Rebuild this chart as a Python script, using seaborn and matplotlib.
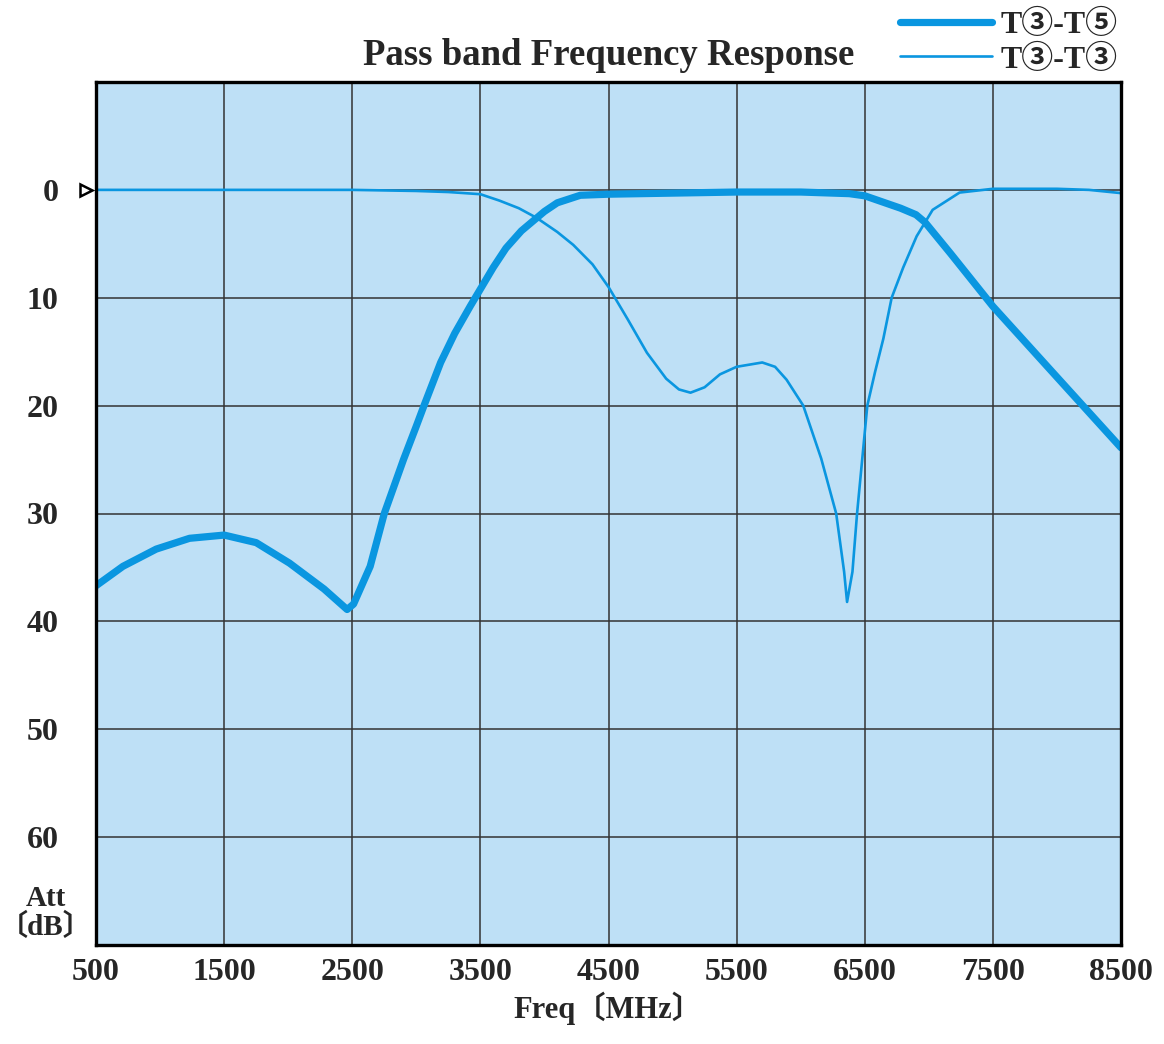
import matplotlib
matplotlib.use("Agg")
import matplotlib.pyplot as plt
import seaborn as sns
import pandas as pd

# T3-T5 (thick line)
t35_freq = [500, 710, 970, 1230, 1500, 1750, 2010, 2280, 2460, 2510, 2640, 2750,
            2900, 3000, 3060, 3190, 3300, 3420, 3500, 3600, 3700, 3820,
            3940, 4000, 4100, 4280, 4500, 5000, 5500, 6000, 6380, 6500, 6780,
            6900, 6970, 7170, 7500, 7950, 8500]
t35_att = [36.7, 34.9, 33.3, 32.3, 32.0, 32.7, 34.6, 37.0, 38.9, 38.4, 34.9, 30.0,
           25.0, 21.9, 20.0, 16.0, 13.3, 10.8, 9.2, 7.2, 5.4, 3.8,
           2.6, 2.0, 1.2, 0.5, 0.4, 0.3, 0.2, 0.2, 0.35, 0.55, 1.7,
           2.3, 3.0, 5.9, 10.8, 16.7, 23.9]

# T3-T3 (thin line)
t33_freq = [500, 1000, 1500, 2000, 2500, 3000, 3250, 3500, 3650, 3800, 3940, 4100,
            4225, 4375, 4500, 4650, 4800, 4950, 5050, 5140, 5250, 5370, 5500, 5700,
            5800, 5890, 6020, 6160, 6277, 6339, 6362, 6404, 6440, 6480, 6520,
            6580, 6645, 6710, 6800, 6905, 7030, 7240, 7500, 8000, 8250, 8500]
t33_att = [0.0, 0.0, 0.0, 0.0, 0.0, 0.1, 0.2, 0.4, 1.0, 1.7, 2.6, 3.9,
           5.1, 6.9, 9.0, 12.0, 15.1, 17.5, 18.5, 18.8, 18.3, 17.1, 16.4, 16.0,
           16.4, 17.6, 20.0, 24.9, 30.0, 35.4, 38.2, 35.4, 30.0, 25.0, 20.0,
           16.9, 13.8, 10.0, 7.2, 4.3, 1.85, 0.25, -0.1, -0.1, 0.0, 0.3]

freq_ticks = [500, 1500, 2500, 3500, 4500, 5500, 6500, 7500, 8500]
att_ticks = [0, 10, 20, 30, 40, 50, 60]

df35 = pd.DataFrame({"Freq": t35_freq, "Att": t35_att})
df33 = pd.DataFrame({"Freq": t33_freq, "Att": t33_att})

sns.set_style("white")
plt.rcParams['font.family'] = ['Liberation Serif', 'DejaVu Serif', 'Noto Sans CJK JP']
plt.rcParams['font.weight'] = 'bold'

line_col = '#0a96e0'
bg_col = '#bee0f6'

fig = plt.figure(figsize=(11.64, 10.44), dpi=100)
ax = fig.add_axes([96/1164, 1 - 945/1044, (1121-96)/1164, (945-82)/1044])
ax.set_facecolor(bg_col)

sns.lineplot(data=df35, x="Freq", y="Att", ax=ax, color=line_col, lw=5.2,
             label="T③-T⑤", sort=False)
sns.lineplot(data=df33, x="Freq", y="Att", ax=ax, color=line_col, lw=1.9,
             label="T③-T③", sort=False)

ax.set_xlim(500, 8500)
ax.set_ylim(70, -10)
ax.set_xticks(freq_ticks)
ax.set_yticks(att_ticks)
ax.grid(True, color='#333333', lw=1.1, zorder=0)
ax.set_axisbelow(True)
for sp in ax.spines.values():
    sp.set_color('black')
    sp.set_linewidth(2.4)

ax.tick_params(axis='x', length=0, pad=9, labelsize=23)
ax.tick_params(axis='y', length=0, pad=27, labelsize=23)
for lab in ax.get_xticklabels() + ax.get_yticklabels():
    lab.set_fontweight('bold')

ax.set_xlabel("Freq〔MHz〕", fontsize=22, fontweight='bold', labelpad=4)
ax.set_ylabel("")
fig.text(46/1164, 1 - 913/1044, "Att\n〔dB〕", ha='center', va='center',
         fontsize=21, fontweight='bold', linespacing=1.0)

ax.set_title("Pass band Frequency Response", fontsize=26.5, fontweight='bold', pad=12)

# small open arrow marking 0 dB
ax.plot([-0.01], [0], marker='>', markersize=9, markerfacecolor='white',
        markeredgecolor='black', markeredgewidth=1.8,
        transform=ax.get_yaxis_transform(), clip_on=False)

leg = ax.legend(loc='lower right', bbox_to_anchor=(1.012, 0.99), frameon=False,
                fontsize=23, handlelength=2.9, handletextpad=0.25,
                labelspacing=0.15, borderaxespad=0.1)
for t in leg.get_texts():
    t.set_fontweight('bold')

fig.savefig("out.png", dpi=100)
